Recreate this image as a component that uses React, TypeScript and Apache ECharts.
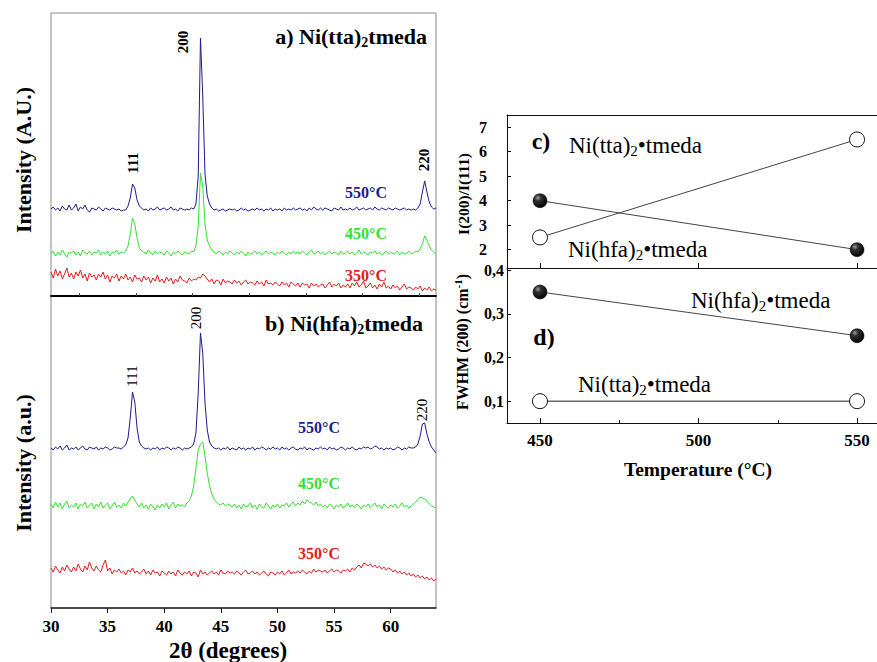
import React, { useEffect, useRef } from 'react';
import * as echarts from 'echarts';

// ---- XRD patterns (2θ from 30 to 64, step 0.2), arbitrary intensity units ----
const XRD_START = 30;
const XRD_STEP = 0.2;

// a) Ni(tta)2tmeda
const a550 = [
  87,89,86,88,85,90,87,86,91,86, 88,92,85,89,87,91,86,84,88,87, 86,89,87,85,88,87,86,88,87,86,
  87,85,86,86,90,98,112,108,96,90, 88,86,87,85,88,86,87,89,86,87, 88,86,87,89,86,87,85,88,87,86,
  87,86,88,87,92,120,258,200,122,100, 92,88,86,87,85,86,87,85,86,87, 86,87,85,86,88,86,87,85,86,87,
  86,88,86,87,85,87,86,88,85,87, 86,87,85,88,86,87,86,88,86,87, 88,86,87,85,88,86,89,87,86,88,
  86,88,87,86,85,88,87,86,89,86, 87,86,88,86,87,89,86,87,88,86, 87,88,86,89,87,86,88,87,86,88,
  87,86,88,87,86,87,88,86,87,86, 87,86,88,92,104,115,104,94,89,87,88,
];
const a450 = [
  42,45,40,44,41,46,42,39,44,43, 45,41,44,40,46,43,42,45,41,44, 43,46,41,44,42,45,40,44,43,46,
  42,44,43,45,50,62,78,72,58,48, 45,44,42,46,43,41,45,42,44,43, 41,45,43,40,44,42,45,43,41,44,
  43,42,45,44,50,70,123,110,72,56, 50,46,44,42,45,43,41,44,42,45, 43,41,44,42,45,43,40,44,42,43,
  45,42,44,41,43,45,42,44,43,41, 44,42,45,43,41,44,42,45,43,44, 42,45,43,41,44,46,42,43,45,42,
  44,41,43,45,42,44,43,41,45,42, 43,45,42,44,41,43,46,42,44,43, 41,44,43,45,42,44,41,43,45,42,
  44,42,43,45,41,44,42,43,45,42, 43,45,44,47,52,60,56,50,46,44,42,
];
const a350 = [
  24,18,27,20,25,17,22,28,19,23, 17,24,20,26,18,22,15,23,19,21, 16,22,19,24,17,21,14,20,18,22,
  15,20,17,22,16,19,14,21,17,18, 14,20,16,19,13,18,15,21,14,17, 13,19,15,18,12,17,14,20,16,15,
  13,18,15,17,16,19,18,22,20,17, 14,17,12,16,15,11,17,13,15,14, 12,16,13,15,11,14,16,12,14,13,
  11,15,12,14,10,16,12,13,11,14, 12,10,14,11,13,9,14,12,10,13, 9,13,11,12,8,13,10,12,9,11,
  12,8,11,14,9,12,10,13,8,11, 9,12,8,13,10,14,9,11,15,8, 10,13,8,11,7,12,9,14,8,10,
  7,11,8,10,6,9,12,7,9,8, 6,9,7,10,5,8,6,9,5,7,6,
];

// b) Ni(hfa)2tmeda
const b550 = [
  160,158,161,159,162,158,160,163,158,160, 159,161,158,160,162,159,158,161,160,159, 161,158,160,159,161,160,158,159,161,160,
  160,159,161,163,170,190,216,206,180,166, 162,160,159,160,158,160,159,161,158,160, 159,161,160,158,160,159,161,160,158,160,
  159,160,161,164,175,215,275,255,205,178, 166,162,160,159,160,158,160,159,161,158, 160,159,158,161,159,160,158,160,159,161,
  158,160,159,161,160,158,160,159,161,159, 160,158,161,159,160,158,160,161,159,158, 160,159,161,158,160,159,158,160,159,161,
  159,160,158,161,159,160,158,159,161,160, 158,160,159,161,159,158,160,159,161,160, 161,159,160,162,161,159,160,158,160,159,
  160,158,159,161,160,158,160,159,161,160, 160,161,164,172,184,185,174,166,161,158,155,
];
const b450 = [
  104,100,106,101,105,99,104,107,100,103, 101,105,99,104,102,106,100,103,105,99, 104,101,106,100,103,105,99,102,106,101,
  103,100,105,102,106,109,112,108,104,101, 105,100,103,99,104,101,98,103,100,104, 101,105,99,103,106,100,104,102,103,101,
  105,107,112,122,140,158,164,166,152,135, 122,114,109,106,104,103,105,102,104,103, 101,104,100,103,99,104,101,102,105,100,
  103,99,104,101,100,105,102,99,103,101, 104,100,103,102,105,101,104,106,102,105, 103,107,104,108,106,105,103,106,102,104,
  101,103,100,104,102,99,103,101,104,100, 102,105,101,103,100,104,102,99,103,101, 104,100,102,105,101,103,99,104,102,100,
  103,101,104,100,102,105,101,103,100,102, 104,106,108,111,110,109,107,104,102,101,100,
];
const b350 = [
  40,36,42,38,35,41,37,43,39,36, 41,37,44,39,36,42,38,46,40,37, 42,38,36,43,48,37,40,34,38,36,
  39,35,37,33,38,36,40,35,37,34, 36,39,34,37,33,38,35,36,32,37, 35,33,37,34,36,32,38,35,33,36,
  34,37,32,36,35,31,38,34,36,33, 35,37,34,36,33,38,35,34,37,35, 36,34,37,35,33,36,38,34,35,37,
  34,36,33,35,37,34,32,36,35,33, 36,34,37,33,35,38,34,36,35,37, 35,38,36,34,37,35,39,36,38,37,
  36,38,35,37,39,36,38,37,35,38, 37,39,36,40,38,41,43,40,45,44, 42,44,41,43,40,42,39,41,38,40,
  39,36,38,35,37,34,36,33,35,32, 34,31,33,30,32,29,31,28,30,27,29,
];

const xrdTicks = [30, 35, 40, 45, 50, 55, 60];
const xrdMinorTicks = [32.5, 37.5, 42.5, 47.5, 52.5, 57.5, 62.5];

// ---- c) and d) panels ----
const temps = [450, 550];
const ratioHfa = [4, 2];
const ratioTta = [2.5, 6.5];
const fwhmHfa = [0.35, 0.25];
const fwhmTta = [0.1, 0.1];
const tempTicks = [450, 500, 550];
const tempMinorTicks = [475, 525];
const ratioTicks = [2, 3, 4, 5, 6, 7];
const fwhmTicks = [0.1, 0.2, 0.3, 0.4];

const SERIF = "'Liberation Serif', 'Times New Roman', serif";
const BLUE = '#1c1c8e';
const GREEN = '#33e033';
const RED = '#e01c1c';

const toPts = (arr: number[]) => arr.map((v, i) => [+(XRD_START + i * XRD_STEP).toFixed(2), v]);

const subRich = (size: number, weight: string) => {
  const ss = Math.round(size * 0.65);
  return {
    n: { fontSize: size, fontWeight: weight, fontFamily: SERIF, lineHeight: size + 2, verticalAlign: 'top', color: '#000' },
    s: { fontSize: ss, fontWeight: weight, fontFamily: SERIF, lineHeight: ss, verticalAlign: 'bottom', padding: [Math.round(size * 0.55), 0, 0, 0], color: '#000' },
  };
};
const supRich = (size: number, weight: string) => {
  const ss = Math.round(size * 0.7);
  return {
    n: { fontSize: size, fontWeight: weight, fontFamily: SERIF, lineHeight: size + 2, verticalAlign: 'bottom', color: '#000' },
    p: { fontSize: ss, fontWeight: weight, fontFamily: SERIF, lineHeight: ss, verticalAlign: 'top', padding: [0, 0, Math.round(size * 0.55), 0], color: '#000' },
  };
};

type TOpts = { size: number; weight?: string; color?: string; align?: string; rot?: number; rich?: any };
const txt = (x: number, y: number, text: string, o: TOpts) => ({
  type: 'text',
  x,
  y,
  rotation: o.rot || 0,
  z: 100,
  silent: true,
  style: {
    text,
    fill: o.color || '#000',
    fontSize: o.size,
    fontWeight: o.weight || 'normal',
    fontFamily: SERIF,
    align: o.align || 'center',
    verticalAlign: 'middle',
    textAlign: o.align || 'center',
    textVerticalAlign: 'middle',
    rich: o.rich,
  },
});

export default function App() {
  const ref = useRef<HTMLDivElement>(null);
  useEffect(() => {
    const chart = echarts.init(ref.current!, null, { renderer: 'svg' });
    const ball = new echarts.graphic.RadialGradient(0.35, 0.3, 0.75, [
      { offset: 0, color: '#a0a0a0' },
      { offset: 0.3, color: '#303030' },
      { offset: 1, color: '#000000' },
    ]);
    const R = Math.PI / 2;
    const xrdLine = (data: number[], color: string, xi: number, yi: number) => ({
      type: 'line',
      xAxisIndex: xi,
      yAxisIndex: yi,
      data: toPts(data),
      showSymbol: false,
      symbol: 'none',
      silent: true,
      lineStyle: { color, width: 1 },
      z: 3,
    });
    const hidden = { show: false };
    const black = { color: '#111', width: 1 };
    const TMIN = 439.6;
    const TMAX = 556.3;
    const option: any = {
      animation: false,
      backgroundColor: '#fff',
      textStyle: { fontFamily: SERIF },
      grid: [
        { left: 51, top: 13, width: 385, height: 283, show: true, borderColor: '#8a8a8a', borderWidth: 1 },
        { left: 51, top: 296, width: 385, height: 312, show: true, borderColor: '#8a8a8a', borderWidth: 1 },
        { left: 507, top: 115, width: 370, height: 153, show: false },
        { left: 507, top: 268, width: 370, height: 155, show: false },
      ],
      xAxis: [
        {
          gridIndex: 0, type: 'value', min: 30, max: 64, interval: 5,
          axisLine: { show: true, lineStyle: { color: '#000', width: 2 } },
          axisTick: hidden, axisLabel: hidden, splitLine: hidden,
        },
        {
          gridIndex: 1, type: 'value', min: 30, max: 64, interval: 5,
          axisLine: { show: true, lineStyle: { color: '#222', width: 1.5 } },
          axisTick: { show: true, length: 5, customValues: xrdTicks, lineStyle: { color: '#222', width: 1 } },
          axisLabel: { show: true, customValues: xrdTicks, fontSize: 17, fontWeight: 'bold', fontFamily: SERIF, color: '#000', margin: 10 },
          splitLine: hidden,
        },
        {
          gridIndex: 1, type: 'value', min: 30, max: 64, interval: 5,
          axisLine: hidden,
          axisTick: { show: true, length: 3, customValues: xrdMinorTicks, lineStyle: { color: '#444', width: 1 } },
          axisLabel: hidden, splitLine: hidden,
        },
        {
          gridIndex: 2, type: 'value', min: TMIN, max: TMAX, position: 'bottom',
          axisLine: { show: true, lineStyle: black },
          axisTick: { show: true, inside: true, length: 5, customValues: tempTicks, lineStyle: black },
          axisLabel: hidden, splitLine: hidden,
        },
        {
          gridIndex: 3, type: 'value', min: TMIN, max: TMAX, position: 'bottom',
          axisLine: { show: true, lineStyle: black },
          axisTick: { show: true, inside: true, length: 5, customValues: tempTicks, lineStyle: black },
          axisLabel: { show: true, customValues: tempTicks, fontSize: 17, fontWeight: 'bold', fontFamily: SERIF, color: '#000', margin: 9 },
          splitLine: hidden,
        },
        {
          gridIndex: 3, type: 'value', min: TMIN, max: TMAX, position: 'bottom',
          axisLine: hidden,
          axisTick: { show: true, inside: true, length: 3, customValues: tempMinorTicks, lineStyle: black },
          axisLabel: hidden, splitLine: hidden,
        },
        {
          gridIndex: 2, type: 'value', min: TMIN, max: TMAX, position: 'top',
          axisLine: { show: true, lineStyle: black },
          axisTick: hidden, axisLabel: hidden, splitLine: hidden,
        },
      ],
      yAxis: [
        { gridIndex: 0, type: 'value', min: 0, max: 283, show: false },
        { gridIndex: 1, type: 'value', min: 0, max: 312, show: false },
        {
          gridIndex: 2, type: 'value', min: 1.25, max: 7.5,
          axisLine: { show: true, lineStyle: black },
          axisTick: { show: true, inside: true, length: 4, customValues: ratioTicks, lineStyle: black },
          axisLabel: { show: true, customValues: ratioTicks, fontSize: 16, fontWeight: 'bold', fontFamily: SERIF, color: '#000', margin: 20 },
          splitLine: hidden,
        },
        {
          gridIndex: 3, type: 'value', min: 0.05, max: 0.405,
          axisLine: { show: true, lineStyle: black },
          axisTick: { show: true, inside: true, length: 4, customValues: fwhmTicks, lineStyle: black },
          axisLabel: {
            show: true, customValues: fwhmTicks, fontSize: 16, fontWeight: 'bold', fontFamily: SERIF, color: '#000', margin: 3,
            formatter: (v: number) => String(Math.round(v * 10) / 10).replace('.', ','),
          },
          splitLine: hidden,
        },
      ],
      series: [
        xrdLine(a350, RED, 0, 0),
        xrdLine(a450, GREEN, 0, 0),
        xrdLine(a550, BLUE, 0, 0),
        xrdLine(b350, RED, 1, 1),
        xrdLine(b450, GREEN, 1, 1),
        xrdLine(b550, BLUE, 1, 1),
        {
          type: 'line', xAxisIndex: 3, yAxisIndex: 2, data: temps.map((t, i) => [t, ratioTta[i]]),
          symbol: 'circle', symbolSize: 15, showSymbol: true,
          itemStyle: { color: '#fff', borderColor: '#111', borderWidth: 1 },
          lineStyle: { color: '#444', width: 1 }, z: 5,
        },
        {
          type: 'line', xAxisIndex: 3, yAxisIndex: 2, data: temps.map((t, i) => [t, ratioHfa[i]]),
          symbol: 'circle', symbolSize: 14, showSymbol: true,
          itemStyle: { color: ball, borderColor: '#000', borderWidth: 0.5 },
          lineStyle: { color: '#444', width: 1 }, z: 5,
        },
        {
          type: 'line', xAxisIndex: 4, yAxisIndex: 3, data: temps.map((t, i) => [t, fwhmTta[i]]),
          symbol: 'circle', symbolSize: 15, showSymbol: true,
          itemStyle: { color: '#fff', borderColor: '#111', borderWidth: 1 },
          lineStyle: { color: '#222', width: 1 }, z: 5,
        },
        {
          type: 'line', xAxisIndex: 4, yAxisIndex: 3, data: temps.map((t, i) => [t, fwhmHfa[i]]),
          symbol: 'circle', symbolSize: 14, showSymbol: true,
          itemStyle: { color: ball, borderColor: '#000', borderWidth: 0.5 },
          lineStyle: { color: '#444', width: 1 }, z: 5,
        },
      ],
      graphic: [
        // panel a
        txt(427, 37, '{n|a) Ni(tta)}{s|2}{n|tmeda}', { size: 22, weight: 'bold', align: 'right', rich: subRich(22, 'bold') }),
        txt(133, 163, '111', { size: 15, weight: 'bold', rot: R }),
        txt(183, 42, '200', { size: 15, weight: 'bold', rot: R }),
        txt(424, 160, '220', { size: 15, weight: 'bold', rot: R }),
        txt(366, 192, '550°C', { size: 16, weight: 'bold', color: BLUE }),
        txt(366, 233, '450°C', { size: 16, weight: 'bold', color: GREEN }),
        txt(366, 275, '350°C', { size: 16, weight: 'bold', color: RED }),
        txt(23, 160, 'Intensity (A.U.)', { size: 22, weight: 'bold', rot: R }),
        // panel b
        txt(423, 324, '{n|b) Ni(hfa)}{s|2}{n|tmeda}', { size: 22, weight: 'bold', align: 'right', rich: subRich(22, 'bold') }),
        txt(196, 318, '200', { size: 15, rot: R }),
        txt(132, 376, '111', { size: 15, rot: R }),
        txt(422, 410, '220', { size: 15, rot: R }),
        txt(319, 427, '550°C', { size: 16, weight: 'bold', color: BLUE }),
        txt(319, 483, '450°C', { size: 16, weight: 'bold', color: GREEN }),
        txt(319, 553, '350°C', { size: 16, weight: 'bold', color: RED }),
        txt(23, 463, 'Intensity (a.u.)', { size: 22, weight: 'bold', rot: R }),
        txt(228, 650, '2θ (degrees)', { size: 23, weight: 'bold' }),
        // panel c
        txt(541, 141, 'c)', { size: 24, weight: 'bold' }),
        txt(569, 146, '{n|Ni(tta)}{s|2}{n|•tmeda}', { size: 23, align: 'left', rich: subRich(23, 'normal') }),
        txt(568, 250, '{n|Ni(hfa)}{s|2}{n|•tmeda}', { size: 23, align: 'left', rich: subRich(23, 'normal') }),
        txt(463, 194, 'I(200)/I(111)', { size: 15.5, weight: 'bold', rot: R }),
        // panel d
        txt(691, 301, '{n|Ni(hfa)}{s|2}{n|•tmeda}', { size: 23, align: 'left', rich: subRich(23, 'normal') }),
        txt(544, 337, 'd)', { size: 24, weight: 'bold' }),
        txt(578, 385, '{n|Ni(tta)}{s|2}{n|•tmeda}', { size: 23, align: 'left', rich: subRich(23, 'normal') }),
        txt(461, 342, '{n|FWHM (200) (cm}{p|-1}{n|)}', { size: 16, weight: 'bold', rot: R, rich: supRich(16, 'bold') }),
        txt(698, 469, 'Temperature (°C)', { size: 19.5, weight: 'bold' }),
      ],
    };
    chart.setOption(option);
    return () => chart.dispose();
  }, []);
  return (
    <div
      ref={ref}
      style={{ position: 'fixed', left: 0, top: 0, width: 877, height: 662, background: '#fff' }}
    />
  );
}
